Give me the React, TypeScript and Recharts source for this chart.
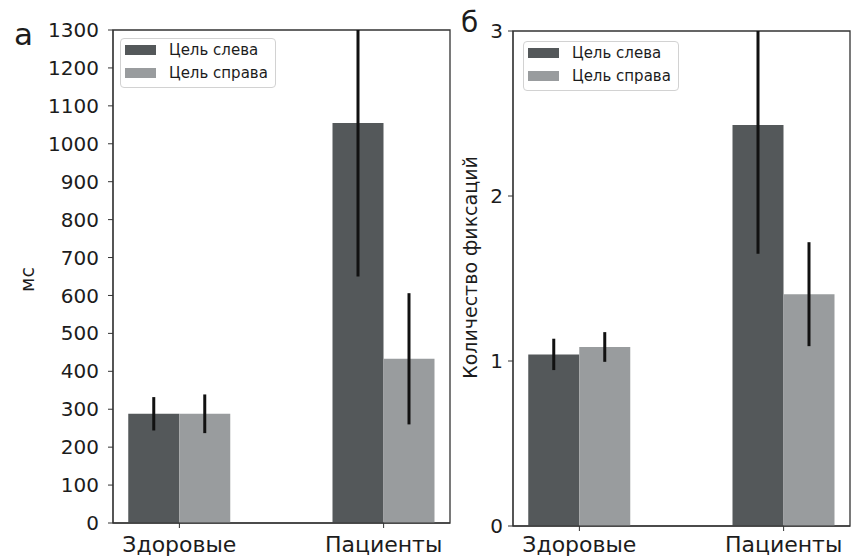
import React from 'react';
import { BarChart, Bar, XAxis, YAxis, ErrorBar, Legend, ReferenceArea, Label } from 'recharts';

// ---- data ----
const categories = ['Здоровые', 'Пациенты'];
const seriesNames = ['Цель слева', 'Цель справа'];
const panelLabels = ['а', 'б'];
const yLabels = ['мс', 'Количество фиксаций'];

// panel а: time, ms
const timeLeft = [288, 1055];
const timeLeftErr = [44, 405];
const timeRight = [288, 433];
const timeRightErr = [51, 173];
const timeTicks = [0, 100, 200, 300, 400, 500, 600, 700, 800, 900, 1000, 1100, 1200, 1300];

// panel б: number of fixations
const fixLeft = [1.04, 2.43];
const fixLeftErr = [0.095, 0.78];
const fixRight = [1.085, 1.405];
const fixRightErr = [0.09, 0.315];
const fixTicks = [0, 1, 2, 3];

const xPositions = [0, 1];
const X_DOMAIN: [number, number] = [-0.325, 1.325];

const COLORS = ['#54585a', '#999c9e'];
const FONT = '"DejaVu Sans", sans-serif';
const TEXT = '#1c1c1c';
const AXIS = '#333333';

const timeData = categories.map((c, i) => ({
  x: xPositions[i],
  name: c,
  left: timeLeft[i],
  leftErr: timeLeftErr[i],
  right: timeRight[i],
  rightErr: timeRightErr[i],
}));

const fixData = categories.map((c, i) => ({
  x: xPositions[i],
  name: c,
  left: fixLeft[i],
  leftErr: fixLeftErr[i],
  right: fixRight[i],
  rightErr: fixRightErr[i],
}));

const LegendBox = () => (
  <div
    style={{
      display: 'inline-block',
      border: '1px solid #d2d2d2',
      borderRadius: 4,
      background: '#fff',
      padding: '0px 7px 3px 4px',
      fontFamily: FONT,
      whiteSpace: 'nowrap',
    }}
  >
    {seriesNames.map((n, i) => (
      <div key={n} style={{ display: 'flex', alignItems: 'center', height: 22.5 }}>
        <span style={{ display: 'inline-block', width: 31, height: 10, background: COLORS[i] }} />
        <span style={{ marginLeft: 13, fontSize: 15, color: TEXT, lineHeight: '22px' }}>{n}</span>
      </div>
    ))}
  </div>
);

type PanelProps = {
  id: string;
  data: any[];
  yDomain: [number, number];
  yTicks: number[];
  yLabel: string;
  width: number;
  height: number;
  margin: { top: number; right: number; bottom: number; left: number };
  yAxisWidth: number;
  xAxisHeight: number;
  xTickMargin: number;
  legendLeft: number;
  legendTop: number;
  yLabelX: number;
  yLabelDy: number;
  yLabelSize: number;
  yTickMargin: number;
};

const Panel = (p: PanelProps) => (
  <BarChart width={p.width} height={p.height} data={p.data} margin={p.margin} barGap={0} barCategoryGap={0}>
    <XAxis
      dataKey="x"
      type="number"
      domain={X_DOMAIN}
      allowDataOverflow
      ticks={xPositions}
      tickFormatter={(v: number) => categories[v] ?? ''}
      height={p.xAxisHeight}
      stroke={AXIS}
      tickSize={5}
      tickMargin={p.xTickMargin}
      tick={{ fontSize: 22, fill: TEXT, fontFamily: FONT }}
      interval={0}
    />
    <YAxis
      type="number"
      domain={p.yDomain}
      allowDataOverflow
      ticks={p.yTicks}
      width={p.yAxisWidth}
      stroke={AXIS}
      tickSize={5}
      tickMargin={p.yTickMargin}
      tick={{ fontSize: 20, fill: TEXT, fontFamily: FONT }}
      interval={0}
    >
      <Label
        content={(props: any) => {
          const vb = props.viewBox || {};
          const cx = (vb.x ?? 0) + p.yLabelX;
          const cy = (vb.y ?? 0) + (vb.height ?? 0) / 2 + p.yLabelDy;
          return (
            <text
              x={cx}
              y={cy}
              transform={`rotate(-90, ${cx}, ${cy})`}
              textAnchor="middle"
              dominantBaseline="central"
              fontSize={p.yLabelSize}
              fontFamily={FONT}
              fill={TEXT}
            >
              {p.yLabel}
            </text>
          );
        }}
      />
    </YAxis>
    <Legend
      layout="vertical"
      align="center"
      verticalAlign="middle"
      wrapperStyle={{ left: p.legendLeft, top: p.legendTop, width: 'auto', height: 'auto' }}
      content={() => <LegendBox />}
    />
    <Bar id={`${p.id}L`} dataKey="left" name={seriesNames[0]} fill={COLORS[0]} barSize={51} isAnimationActive={false}>
      <ErrorBar
        dataKey="leftErr"
        width={0}
        stroke="#111"
        strokeWidth={3}
        direction="y"
        clipPath={`url(#clipPath-${p.id}L)`}
      />
    </Bar>
    <Bar id={`${p.id}R`} dataKey="right" name={seriesNames[1]} fill={COLORS[1]} barSize={51} isAnimationActive={false}>
      <ErrorBar
        dataKey="rightErr"
        width={0}
        stroke="#111"
        strokeWidth={3}
        direction="y"
        clipPath={`url(#clipPath-${p.id}R)`}
      />
    </Bar>
    <ReferenceArea
      x1={X_DOMAIN[0]}
      x2={X_DOMAIN[1]}
      y1={p.yDomain[0]}
      y2={p.yDomain[1]}
      fill="none"
      stroke={AXIS}
      strokeWidth={1.3}
      ifOverflow="visible"
    />
  </BarChart>
);

export default function App() {
  return (
    <div style={{ position: 'absolute', left: 0, top: 0, width: 852, height: 558, background: '#fff', overflow: 'hidden' }}>
      <div style={{ position: 'absolute', left: 0, top: 0 }}>
        <Panel
          id="pa"
          data={timeData}
          yDomain={[0, 1300]}
          yTicks={timeTicks}
          yLabel={yLabels[0]}
          width={460}
          height={558}
          margin={{ top: 30, right: 10, bottom: 0, left: 0 }}
          yAxisWidth={113}
          xAxisHeight={35}
          xTickMargin={8}
          legendLeft={120}
          legendTop={38}
          yLabelX={27}
          yLabelDy={3}
          yLabelSize={19}
          yTickMargin={9}
        />
      </div>
      <div style={{ position: 'absolute', left: 460, top: 0 }}>
        <Panel
          id="pb"
          data={fixData}
          yDomain={[0, 3]}
          yTicks={fixTicks}
          yLabel={yLabels[1]}
          width={392}
          height={558}
          margin={{ top: 31, right: 2, bottom: 0, left: 0 }}
          yAxisWidth={53}
          xAxisHeight={32}
          xTickMargin={5}
          legendLeft={63}
          legendTop={41}
          yLabelX={10}
          yLabelDy={-11}
          yLabelSize={19}
          yTickMargin={5}
        />
      </div>
      <svg width={852} height={558} style={{ position: 'absolute', left: 0, top: 0, pointerEvents: 'none' }}>
        <text x={14} y={45} fontSize={31} fontFamily={FONT} fill={TEXT}>
          {panelLabels[0]}
        </text>
        <text x={461} y={32} fontSize={28} fontFamily={FONT} fill={TEXT}>
          {panelLabels[1]}
        </text>
      </svg>
    </div>
  );
}
